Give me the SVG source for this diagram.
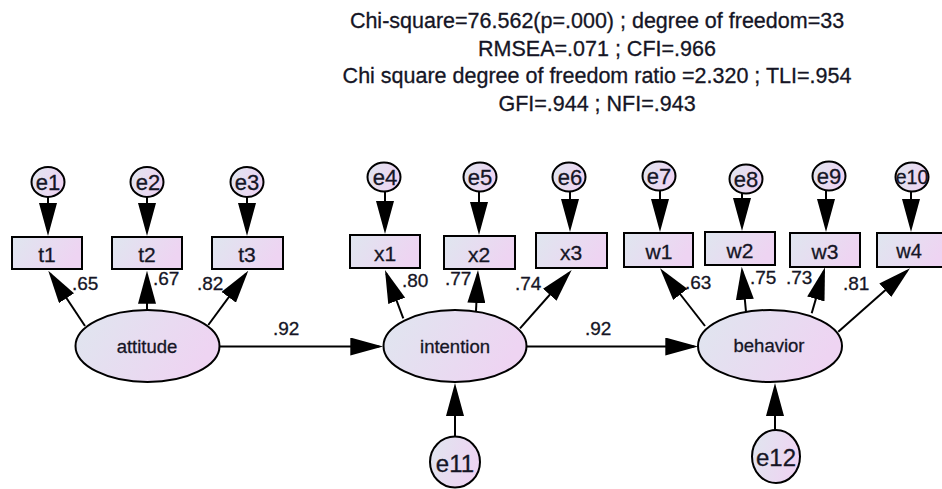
<svg xmlns="http://www.w3.org/2000/svg" width="942" height="489" viewBox="0 0 942 489">
<style>
text{font-family:"Liberation Sans",Arial,sans-serif;fill:#151525;stroke:#151525;stroke-width:0.3;}
.title{font-size:21.5px;text-anchor:middle;}
.coef{font-size:19px;}
.lab{font-size:21px;text-anchor:middle;}
.elab{font-size:22px;text-anchor:middle;}
.lat{font-size:18.5px;text-anchor:middle;}
.node{fill:url(#g);stroke:#000;stroke-width:2;}
.con line{stroke:#000;stroke-width:2;marker-end:url(#ah);}
</style>
<defs>
<linearGradient id="g" x1="0" y1="0" x2="1" y2="0.3">
<stop offset="0" stop-color="#dfe6ef"/>
<stop offset="1" stop-color="#eed4f2"/>
</linearGradient>
<marker id="ah" markerUnits="userSpaceOnUse" markerWidth="33" markerHeight="18" viewBox="0 0 33 18" refX="29" refY="9" orient="auto">
<path d="M0,0 L33,9 L0,18 Z" fill="#000"/>
</marker>
</defs>
<rect width="942" height="489" fill="#fff"/>
<g id="fit-indices">
<text class="title" x="597" y="28">Chi-square=76.562(p=.000) ; degree of freedom=33</text>
<text class="title" x="597" y="56">RMSEA=.071 ; CFI=.966</text>
<text class="title" x="597" y="83">Chi square degree of freedom ratio =2.320 ; TLI=.954</text>
<text class="title" x="597" y="111">GFI=.944 ; NFI=.943</text>
</g>
<g id="connectors" class="con">
<line x1="48" y1="197" x2="48" y2="232"/>
<line x1="147" y1="197" x2="147" y2="232"/>
<line x1="247" y1="197" x2="247" y2="232"/>
<line x1="385" y1="191" x2="385" y2="230"/>
<line x1="479" y1="191" x2="479" y2="231"/>
<line x1="570" y1="191" x2="570" y2="228"/>
<line x1="660" y1="190" x2="660" y2="228"/>
<line x1="742" y1="193" x2="742" y2="227"/>
<line x1="826" y1="190" x2="826" y2="228"/>
<line x1="911" y1="191" x2="911" y2="228"/>
<line x1="85" y1="326" x2="50.5" y2="274"/>
<line x1="147" y1="310" x2="147" y2="274.7"/>
<line x1="208.3" y1="325" x2="245.9" y2="273.9"/>
<line x1="403.3" y1="318.3" x2="386.4" y2="273.7"/>
<line x1="476" y1="311" x2="477.8" y2="274"/>
<line x1="520" y1="328.3" x2="569" y2="273"/>
<line x1="705" y1="326" x2="662.5" y2="271.5"/>
<line x1="746" y1="311.7" x2="742.1" y2="270.7"/>
<line x1="811.7" y1="313.3" x2="823.9" y2="271.1"/>
<line x1="838.3" y1="331.7" x2="907" y2="271"/>
<line x1="219" y1="346.5" x2="379.3" y2="346.5"/>
<line x1="527" y1="346.5" x2="694.3" y2="346.5"/>
<line x1="455" y1="437" x2="455" y2="387"/>
<line x1="775" y1="430" x2="775" y2="387"/>
</g>
<g id="coefficients">
<text class="coef" x="72" y="290">.65</text>
<text class="coef" x="153" y="285">.67</text>
<text class="coef" x="197" y="290">.82</text>
<text class="coef" x="273" y="335">.92</text>
<text class="coef" x="402" y="287">.80</text>
<text class="coef" x="445" y="285">.77</text>
<text class="coef" x="515" y="290">.74</text>
<text class="coef" x="585" y="335">.92</text>
<text class="coef" x="685" y="289">.63</text>
<text class="coef" x="750" y="284">.75</text>
<text class="coef" x="786" y="284">.73</text>
<text class="coef" x="843" y="290">.81</text>
</g>
<g id="e1"><ellipse class="node" cx="48" cy="182" rx="16.5" ry="15"/><text class="elab" x="48" y="190">e1</text></g>
<g id="e2"><ellipse class="node" cx="147" cy="182" rx="16.5" ry="15"/><text class="elab" x="148" y="190">e2</text></g>
<g id="e3"><ellipse class="node" cx="247" cy="182" rx="16.5" ry="15"/><text class="elab" x="247" y="190">e3</text></g>
<g id="e4"><ellipse class="node" cx="384" cy="177" rx="16.5" ry="14.5"/><text class="elab" x="385" y="185">e4</text></g>
<g id="e5"><ellipse class="node" cx="480" cy="177" rx="16.5" ry="14.5"/><text class="elab" x="480" y="185">e5</text></g>
<g id="e6"><ellipse class="node" cx="569" cy="177" rx="16.5" ry="14.5"/><text class="elab" x="570" y="185">e6</text></g>
<g id="e7"><ellipse class="node" cx="659" cy="176" rx="16.5" ry="14.5"/><text class="elab" x="659" y="184">e7</text></g>
<g id="e8"><ellipse class="node" cx="746" cy="179" rx="16.5" ry="14.5"/><text class="elab" x="746" y="187">e8</text></g>
<g id="e9"><ellipse class="node" cx="829" cy="176" rx="16.5" ry="14.5"/><text class="elab" x="829" y="184">e9</text></g>
<g id="e10"><ellipse class="node" cx="912" cy="177" rx="16.5" ry="14.5"/><text class="elab" x="912" y="184" style="font-size:19.5px">e10</text></g>
<g id="t1"><rect class="node" x="12" y="237" width="70" height="32"/><text class="lab" x="47" y="262">t1</text></g>
<g id="t2"><rect class="node" x="112" y="237" width="70" height="32"/><text class="lab" x="147" y="262">t2</text></g>
<g id="t3"><rect class="node" x="212" y="237" width="71" height="32"/><text class="lab" x="247" y="262">t3</text></g>
<g id="x1"><rect class="node" x="350" y="235" width="70" height="33"/><text class="lab" x="385" y="261">x1</text></g>
<g id="x2"><rect class="node" x="444" y="236" width="71" height="33"/><text class="lab" x="479" y="262">x2</text></g>
<g id="x3"><rect class="node" x="536" y="233" width="71" height="35"/><text class="lab" x="571" y="260">x3</text></g>
<g id="w1"><rect class="node" x="624" y="233" width="69" height="34"/><text class="lab" x="659" y="259">w1</text></g>
<g id="w2"><rect class="node" x="705" y="232" width="70" height="33"/><text class="lab" x="740" y="258">w2</text></g>
<g id="w3"><rect class="node" x="790" y="233" width="70" height="34"/><text class="lab" x="825" y="259">w3</text></g>
<g id="w4"><rect class="node" x="877" y="233" width="70" height="34"/><text class="lab" x="909" y="258" style="font-size:20px">w4</text></g>
<g id="attitude"><ellipse class="node" cx="147.5" cy="346" rx="72" ry="36"/><text class="lat" x="147" y="353">attitude</text></g>
<g id="intention"><ellipse class="node" cx="455" cy="346" rx="71.5" ry="36"/><text class="lat" x="455" y="353">intention</text></g>
<g id="behavior"><ellipse class="node" cx="770" cy="346" rx="72" ry="36"/><text class="lat" x="769" y="352">behavior</text></g>
<g id="e11"><ellipse class="node" cx="455" cy="462" rx="25" ry="25.5"/><text class="elab" x="455" y="472" style="font-size:24px">e11</text></g>
<g id="e12"><ellipse class="node" cx="776" cy="456.5" rx="24" ry="26.5"/><text class="elab" x="776" y="466" style="font-size:24px">e12</text></g>
</svg>
